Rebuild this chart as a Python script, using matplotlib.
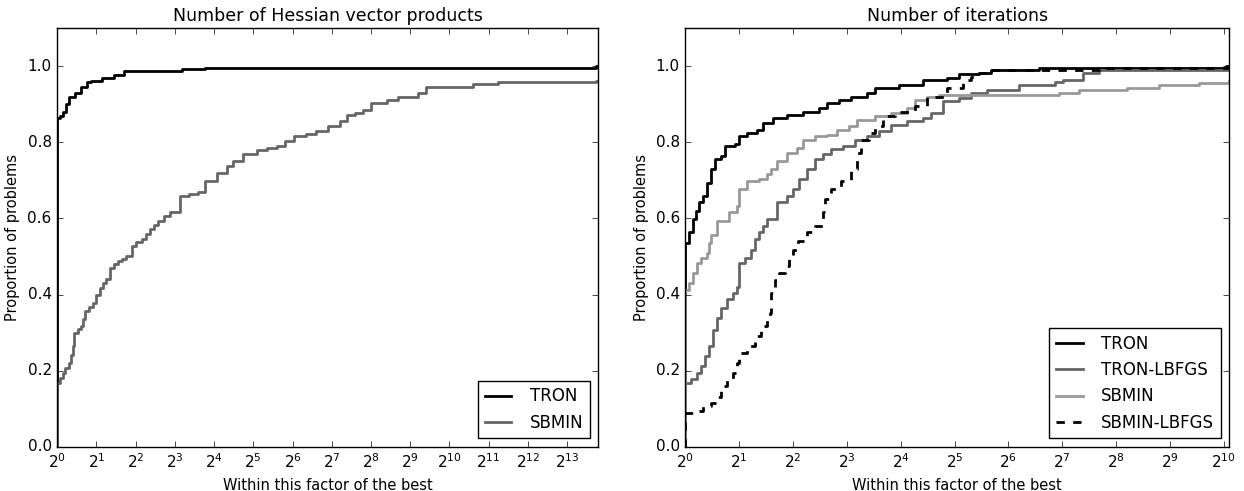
"""
Performance profiles: Hessian vector products and iterations
"""

import numpy as np
import matplotlib.pyplot as plt
from matplotlib.ticker import LogFormatterMathtext, FixedLocator, NullLocator

plt.style.use('classic')
plt.rcParams['mathtext.fontset'] = 'dejavusans'
plt.rcParams['font.family'] = ['DejaVu Sans']

# x values are log2(tau), y values are proportion of problems
# --- left panel: number of Hessian vector products ---
hv_tron_x = [0.0, 0.07, 0.15, 0.22, 0.29, 0.45, 0.6, 0.75, 0.85, 1.15, 1.45, 1.7, 3.17, 3.78, 13.75, 13.8]
hv_tron_y = [0.863, 0.87, 0.88, 0.9, 0.92, 0.93, 0.945, 0.957, 0.962, 0.968, 0.977, 0.987, 0.991, 0.996, 1.0, 1.0]

hv_sbmin_x = [0.0, 0.07, 0.14, 0.21, 0.29, 0.34, 0.39, 0.44, 0.52, 0.6, 0.65, 0.7, 0.8, 0.9, 1.0, 1.1, 1.18, 1.25,
              1.35, 1.45, 1.55, 1.65, 1.75, 1.9, 2.0,
              2.16, 2.26, 2.36, 2.47, 2.57, 2.72, 2.87, 3.12, 3.35, 3.58, 3.78, 4.08, 4.33, 4.48, 4.74, 5.09, 5.35, 5.6, 5.8,
              6.05, 6.35, 6.6, 6.9, 7.2, 7.4, 7.6, 7.8, 8.0, 8.4, 8.7, 9.2, 9.4, 10.6, 11.25, 13.75, 13.8]
hv_sbmin_y = [0.168, 0.18, 0.194, 0.207, 0.22, 0.24, 0.264, 0.3, 0.31, 0.317, 0.335, 0.357, 0.368, 0.379, 0.398, 0.418, 0.43, 0.44,
              0.47, 0.48, 0.488, 0.494, 0.5, 0.527, 0.537,
              0.546, 0.56, 0.572, 0.583, 0.594, 0.605, 0.616, 0.659, 0.663, 0.668, 0.698, 0.72, 0.737, 0.75, 0.768, 0.78, 0.785, 0.79, 0.803,
              0.816, 0.822, 0.829, 0.842, 0.855, 0.872, 0.878, 0.885, 0.903, 0.911, 0.92, 0.929, 0.946, 0.952, 0.957, 0.961, 0.961]

# --- right panel: number of iterations ---
it_tron_x = [0.0, 0.07, 0.14, 0.2, 0.25, 0.33, 0.4, 0.48, 0.55, 0.66, 0.74, 0.92, 1.0, 1.15, 1.33, 1.44, 1.63,
             1.89, 2.19, 2.48, 2.63, 2.86, 3.08, 3.38, 3.52, 3.97, 4.42, 4.86, 5.09, 5.46, 5.68, 6.57, 10.05, 10.1]
it_tron_y = [0.535, 0.563, 0.598, 0.62, 0.642, 0.66, 0.694, 0.729, 0.755, 0.763, 0.79, 0.794, 0.816, 0.824, 0.833, 0.85, 0.863,
             0.872, 0.88, 0.89, 0.903, 0.911, 0.92, 0.929, 0.942, 0.95, 0.963, 0.968, 0.979, 0.983, 0.99, 0.995, 1.0, 1.0]

it_tronl_x = [0.0, 0.1, 0.22, 0.29, 0.36, 0.44, 0.51, 0.59, 0.66, 0.77, 0.88, 0.96, 1.0, 1.11, 1.22, 1.29, 1.37,
              1.45, 1.52, 1.7, 1.89, 2.0, 2.11, 2.26, 2.41, 2.56, 2.71, 2.93, 3.15, 3.38, 3.6, 3.82, 4.12, 4.42,
              4.57, 4.79, 5.09, 5.31, 5.61, 6.2, 6.87, 7.02, 7.39, 7.69, 10.1]
it_tronl_y = [0.168, 0.177, 0.194, 0.211, 0.238, 0.264, 0.308, 0.339, 0.365, 0.387, 0.404, 0.421, 0.483, 0.496, 0.518, 0.545, 0.563,
              0.58, 0.598, 0.642, 0.66, 0.677, 0.703, 0.729, 0.755, 0.768, 0.781, 0.79, 0.807, 0.816, 0.829, 0.846, 0.855, 0.863,
              0.877, 0.907, 0.916, 0.929, 0.937, 0.95, 0.959, 0.963, 0.981, 0.99, 0.995]

it_sbmin_x = [0.0, 0.07, 0.14, 0.22, 0.29, 0.4, 0.44, 0.48, 0.59, 0.81, 0.96, 1.0, 1.15, 1.37, 1.52, 1.59, 1.7,
              1.89, 2.07, 2.19, 2.41, 2.63, 2.82, 3.04, 3.19, 3.52, 3.82, 4.12, 4.27, 4.49, 4.71, 6.94, 7.32,
              8.21, 8.8, 9.55, 10.1]
it_sbmin_y = [0.413, 0.43, 0.457, 0.483, 0.496, 0.509, 0.535, 0.555, 0.594, 0.616, 0.633, 0.677, 0.698, 0.703, 0.716, 0.729, 0.75,
              0.772, 0.785, 0.807, 0.816, 0.82, 0.833, 0.842, 0.859, 0.868, 0.877, 0.89, 0.911, 0.92, 0.924, 0.929, 0.937,
              0.942, 0.95, 0.955, 0.961]

it_sbminl_x = [0.0, 0.25, 0.33, 0.48, 0.59, 0.66, 0.77, 0.88, 0.96, 1.0, 1.15, 1.29, 1.41, 1.52, 1.58, 1.59,
               1.67, 1.74, 1.85, 1.93, 2.0, 2.1, 2.26, 2.41, 2.56, 2.59, 2.71, 2.89, 3.08, 3.19, 3.26, 3.41,
               3.52, 3.67, 3.9, 4.27, 4.49, 4.86, 5.16, 5.31, 5.46, 5.68, 7.69, 10.1]
it_sbminl_y = [0.089, 0.093, 0.106, 0.115, 0.132, 0.159, 0.176, 0.194, 0.22, 0.246, 0.264, 0.29, 0.316, 0.334, 0.352, 0.404,
               0.439, 0.457, 0.474, 0.5, 0.518, 0.54, 0.563, 0.58, 0.616, 0.65, 0.677, 0.698, 0.729, 0.772, 0.807, 0.824,
               0.842, 0.868, 0.88, 0.894, 0.92, 0.942, 0.963, 0.972, 0.981, 0.99, 0.994, 0.995]


def draw_profile(ax, x, y, **kw):
    # start from zero at tau = 1 like a performance profile
    tau = 2.0 ** np.asarray(x)
    ax.plot(np.r_[1.0, tau], np.r_[0.0, y], drawstyle='steps-post', lw=2, **kw)


def setup_axis(ax, xmax, title):
    ax.set_xscale('log', base=2)
    ax.set_xlim(1, 2.0 ** xmax)
    ax.set_ylim(0, 1.1)
    ax.xaxis.set_major_locator(FixedLocator(2.0 ** np.arange(0, int(xmax) + 1)))
    ax.xaxis.set_major_formatter(LogFormatterMathtext(base=2))
    ax.xaxis.set_minor_locator(NullLocator())
    ax.set_yticks([0.0, 0.2, 0.4, 0.6, 0.8, 1.0])
    ax.tick_params(labelsize=11)
    ax.set_xlabel("Within this factor of the best", fontsize=10.5)
    ax.set_ylabel("Proportion of problems", fontsize=10.5)
    ax.set_title(title, fontsize=12.5)


fig = plt.figure(figsize=(12.44, 4.91), dpi=100, facecolor='white')
ax1 = fig.add_axes([0.046, 0.09, 0.435, 0.853])
ax2 = fig.add_axes([0.551, 0.09, 0.437, 0.853])

draw_profile(ax1, hv_tron_x, hv_tron_y, color='black', label='TRON')
draw_profile(ax1, hv_sbmin_x, hv_sbmin_y, color='#666666', label='SBMIN')
setup_axis(ax1, 13.8, "Number of Hessian vector products")
ax1.legend(loc='lower right', fontsize=12, numpoints=1, handlelength=1.6, handletextpad=1.1)

draw_profile(ax2, it_tron_x, it_tron_y, color='black', label='TRON')
draw_profile(ax2, it_tronl_x, it_tronl_y, color='#666666', label='TRON-LBFGS')
draw_profile(ax2, it_sbmin_x, it_sbmin_y, color='#999999', label='SBMIN')
draw_profile(ax2, it_sbminl_x, it_sbminl_y, color='black', linestyle='--', label='SBMIN-LBFGS')
setup_axis(ax2, 10.1, "Number of iterations")
ax2.legend(loc='lower right', fontsize=12, numpoints=1, handlelength=1.6, handletextpad=1.1)

fig.savefig("out.png", dpi=100, facecolor='white')
